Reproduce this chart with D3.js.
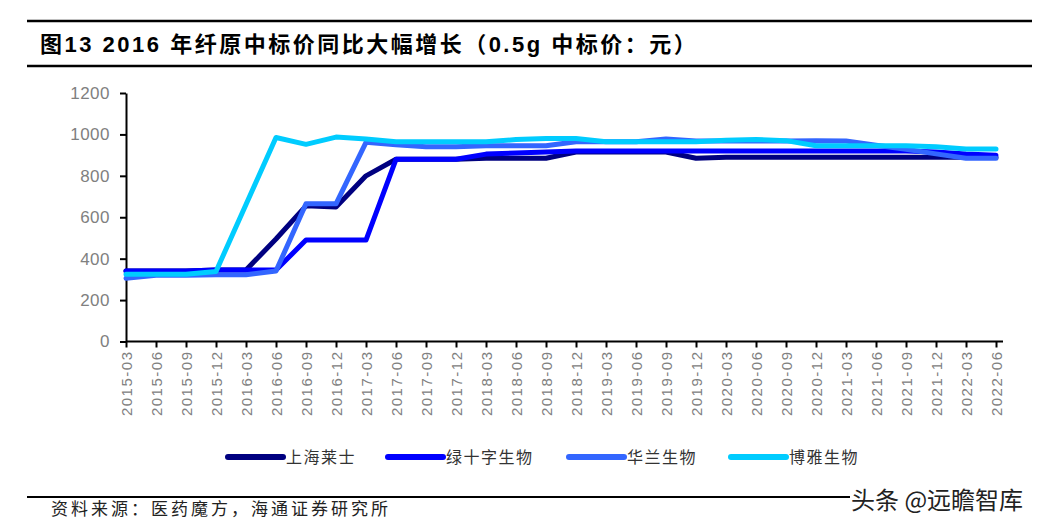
<!DOCTYPE html>
<html>
<head>
<meta charset="utf-8">
<script src="https://cdn.jsdelivr.net/npm/d3@7"></script>
<style>
  body { margin: 0; background: #fff; }
  svg { display: block; }
</style>
</head>
<body>
<div id="chart"></div>
<script>
// quarterly categories
var months = ["2015-03","2015-06","2015-09","2015-12","2016-03","2016-06","2016-09","2016-12",
  "2017-03","2017-06","2017-09","2017-12","2018-03","2018-06","2018-09","2018-12",
  "2019-03","2019-06","2019-09","2019-12","2020-03","2020-06","2020-09","2020-12",
  "2021-03","2021-06","2021-09","2021-12","2022-03","2022-06"];

var seriesNames = ["上海莱士", "绿十字生物", "华兰生物", "博雅生物"];

// 0.5g bid price, yuan
var shanghaiRaas = [340,340,340,345,345,495,655,650,800,880,880,880,885,885,885,915,915,915,915,885,890,890,890,890,890,890,890,890,890,890];
var greenCross   = [340,340,340,345,345,345,490,490,490,880,880,880,905,910,915,920,920,920,920,920,920,920,920,920,920,920,920,915,905,900];
var hualan       = [305,320,320,322,322,340,665,665,962,950,940,940,945,945,945,965,965,965,978,968,968,968,968,970,968,948,928,906,885,885];
var boya         = [325,325,325,338,662,985,952,987,978,965,965,965,965,975,980,980,965,965,965,965,972,975,970,945,945,945,945,940,930,930];

var yTicks = [0,200,400,600,800,1000,1200];

var allSeries = [shanghaiRaas, greenCross, hualan, boya];
var colors = ["#000080", "#0000ff", "#3366ff", "#00ccff"];

var W = 1059, H = 532;
var svg = d3.select("#chart").append("svg")
    .attr("width", W)
    .attr("height", H);

// title block
svg.append("line").attr("x1", 27).attr("x2", 1032).attr("y1", 21).attr("y2", 21)
  .attr("stroke", "#000").attr("stroke-width", 2.5);
svg.append("line").attr("x1", 27).attr("x2", 1032).attr("y1", 66).attr("y2", 66)
  .attr("stroke", "#000").attr("stroke-width", 2.5);
svg.append("text")
  .attr("x", 40).attr("y", 52)
  .style("font-family", "'Liberation Sans', 'Noto Sans CJK SC', sans-serif")
  .style("font-weight", "bold")
  .style("font-size", "22px")
  .style("letter-spacing", "2.5px")
  .text("图13 2016 年纤原中标价同比大幅增长（0.5g 中标价：元）");

// scales
var x = d3.scalePoint()
  .domain(months)
  .range([126, 996]);

var y = d3.scaleLinear()
  .domain([0, 1200])
  .range([341.5, 93]);

// y axis
var yAxis = svg.append("g")
  .attr("transform", "translate(126,0)")
  .call(d3.axisLeft(y).tickValues(yTicks).tickFormat(d3.format("d"))
    .tickSize(6).tickPadding(10).tickSizeOuter(0));
yAxis.select(".domain").attr("stroke", "#000").attr("stroke-width", 2);
yAxis.selectAll(".tick line").attr("stroke", "#000").attr("stroke-width", 2);
yAxis.selectAll(".tick text")
  .style("font-family", "'Liberation Sans', Arial, sans-serif")
  .style("font-size", "17px")
  .style("letter-spacing", "0.5px")
  .attr("fill", "#808080");

// x axis
var xAxis = svg.append("g")
  .attr("transform", "translate(0,341.5)")
  .call(d3.axisBottom(x).tickSize(6).tickSizeOuter(0));
xAxis.select(".domain").attr("d", "M126,0H1003").attr("stroke", "#000").attr("stroke-width", 2);
xAxis.selectAll(".tick line").attr("stroke", "#000").attr("stroke-width", 2);
xAxis.selectAll(".tick text")
  .style("font-family", "'Liberation Sans', Arial, sans-serif")
  .style("font-size", "15px")
  .style("letter-spacing", "1.5px")
  .attr("fill", "#808080")
  .attr("text-anchor", "end")
  .attr("transform", "rotate(-90)")
  .attr("x", -9)
  .attr("y", 0)
  .attr("dy", "0.35em");

// lines
var line = d3.line()
  .x(function(d, i) { return x(months[i]); })
  .y(function(d) { return y(d); });

svg.selectAll(".series")
  .data(allSeries)
  .enter()
  .append("path")
    .attr("class", "series")
    .attr("d", function(d) { return line(d); })
    .attr("fill", "none")
    .attr("stroke", function(d, i) { return colors[i]; })
    .attr("stroke-width", 5)
    .attr("stroke-linejoin", "round")
    .attr("stroke-linecap", "round");

// legend
var legendX = [228, 388, 569, 731];
var legend = svg.selectAll(".legend")
  .data(seriesNames)
  .enter()
  .append("g")
    .attr("class", "legend")
    .attr("transform", function(d, i) { return "translate(" + legendX[i] + ",457)"; });
legend.append("line")
  .attr("x1", 0).attr("x2", 55).attr("y1", 0).attr("y2", 0)
  .attr("stroke", function(d, i) { return colors[i]; })
  .attr("stroke-width", 6)
  .attr("stroke-linecap", "round");
legend.append("text")
  .attr("x", 58).attr("y", 0).attr("dy", "0.35em")
  .style("font-family", "'Noto Sans CJK SC', sans-serif")
  .style("font-size", "16px")
  .style("letter-spacing", "1.5px")
  .attr("fill", "#333")
  .text(function(d) { return d; });

// footer
svg.append("line").attr("x1", 27).attr("x2", 850).attr("y1", 497).attr("y2", 497)
  .attr("stroke", "#000").attr("stroke-width", 2);
svg.append("text")
  .attr("x", 51).attr("y", 515)
  .style("font-family", "'Noto Sans CJK SC', sans-serif")
  .style("font-size", "17px")
  .style("letter-spacing", "3px")
  .attr("fill", "#222")
  .text("资料来源：医药魔方，海通证券研究所");
svg.append("text")
  .attr("x", 851).attr("y", 509)
  .style("font-family", "'Noto Sans CJK SC', sans-serif")
  .style("font-size", "24px")
  .attr("fill", "#222")
  .text("头条 @远瞻智库");
</script>
</body>
</html>
